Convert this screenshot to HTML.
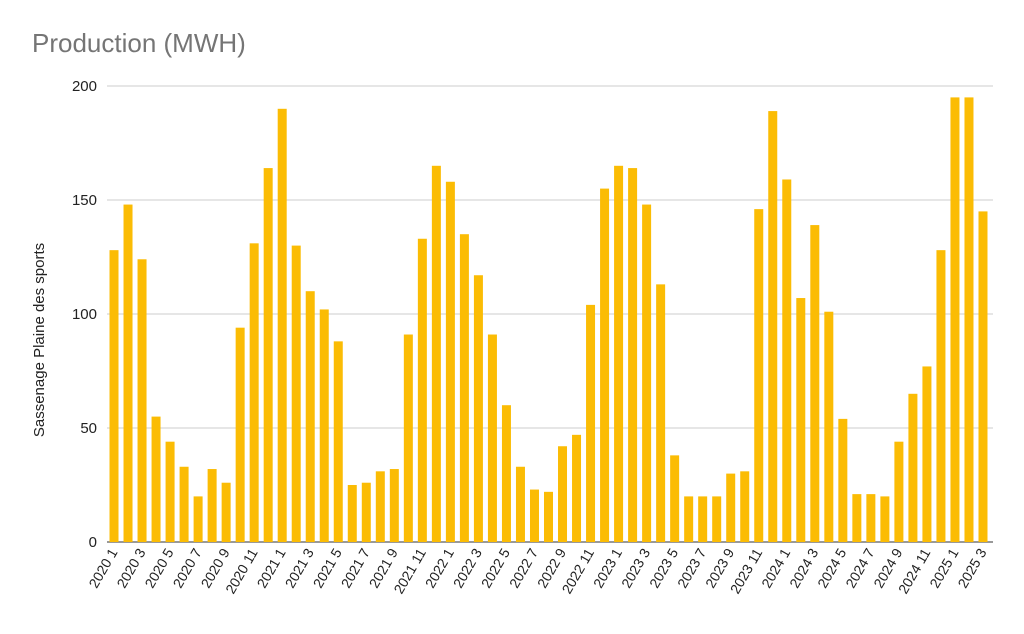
<!DOCTYPE html>
<html><head><meta charset="utf-8"><style>
html,body{margin:0;padding:0;background:#fff;}
svg{display:block;font-family:"Liberation Sans",sans-serif;}
</style></head><body>
<svg id="chart" width="1024" height="634">
<text x="32" y="52" font-size="26" fill="#757575">Production (MWH)</text>
<text transform="translate(44,340) rotate(-90)" text-anchor="middle" font-size="15" fill="#222">Sassenage Plaine des sports</text>
<g id="grid"></g><g id="bars"></g><g id="xlabels"></g>
</svg>
<script>
const years=[2020,2021,2022,2023,2024,2025];
const values=[128,148,124,55,44,33,20,32,26,94,131,164,
190,130,110,102,88,25,26,31,32,91,133,165,
158,135,117,91,60,33,23,22,42,47,104,155,
165,164,148,113,38,20,20,20,30,31,146,189,
159,107,139,101,54,21,21,20,44,65,77,128,
195,195,145];
const yTicks=[0,50,100,150,200];
const categories=[];
for(const y of years){for(let m=1;m<=12;m++){if(categories.length<values.length)categories.push(y+" "+m);}}
const ns="http://www.w3.org/2000/svg";
const x0=107,x1=990,y0=542,yTop=86,yMax=200;
const step=(x1-x0)/categories.length;
const yScale=v=>y0-(v/yMax)*(y0-yTop);
const xCenter=i=>x0+step*(i+0.5);
const grid=document.getElementById('grid');
yTicks.forEach(t=>{
 const l=document.createElementNS(ns,'line');
 l.setAttribute('x1',x0);l.setAttribute('x2',993);
 l.setAttribute('y1',yScale(t));l.setAttribute('y2',yScale(t));
 l.setAttribute('stroke',t===0?'#333':'#ccc');l.setAttribute('stroke-width','1');
 
 
 grid.appendChild(l);
 const tx=document.createElementNS(ns,'text');
 tx.setAttribute('x',97);tx.setAttribute('y',yScale(t)+5);
 tx.setAttribute('text-anchor','end');tx.setAttribute('font-size','15');tx.setAttribute('fill','#222');
 tx.textContent=t;
 
 
 grid.appendChild(tx);
});
const bars=document.getElementById('bars');
const xl=document.getElementById('xlabels');
values.forEach((v,i)=>{
 const r=document.createElementNS(ns,'rect');
 const bw=9;
 r.setAttribute('x',xCenter(i)-bw/2);r.setAttribute('width',bw);
 r.setAttribute('y',yScale(v));r.setAttribute('height',y0-yScale(v));
 r.setAttribute('fill','#fbbc04');
 
 
 bars.appendChild(r);
 if(i%2===0){
  const t=document.createElementNS(ns,'text');
  const cx=xCenter(i)+4,cy=552;
  t.setAttribute('transform','translate('+cx+','+cy+') rotate(-60)');
  t.setAttribute('text-anchor','end');t.setAttribute('font-size','14');t.setAttribute('fill','#222');
  t.textContent=categories[i];
  
  
  xl.appendChild(t);
 }
});
</script>
</body></html>
